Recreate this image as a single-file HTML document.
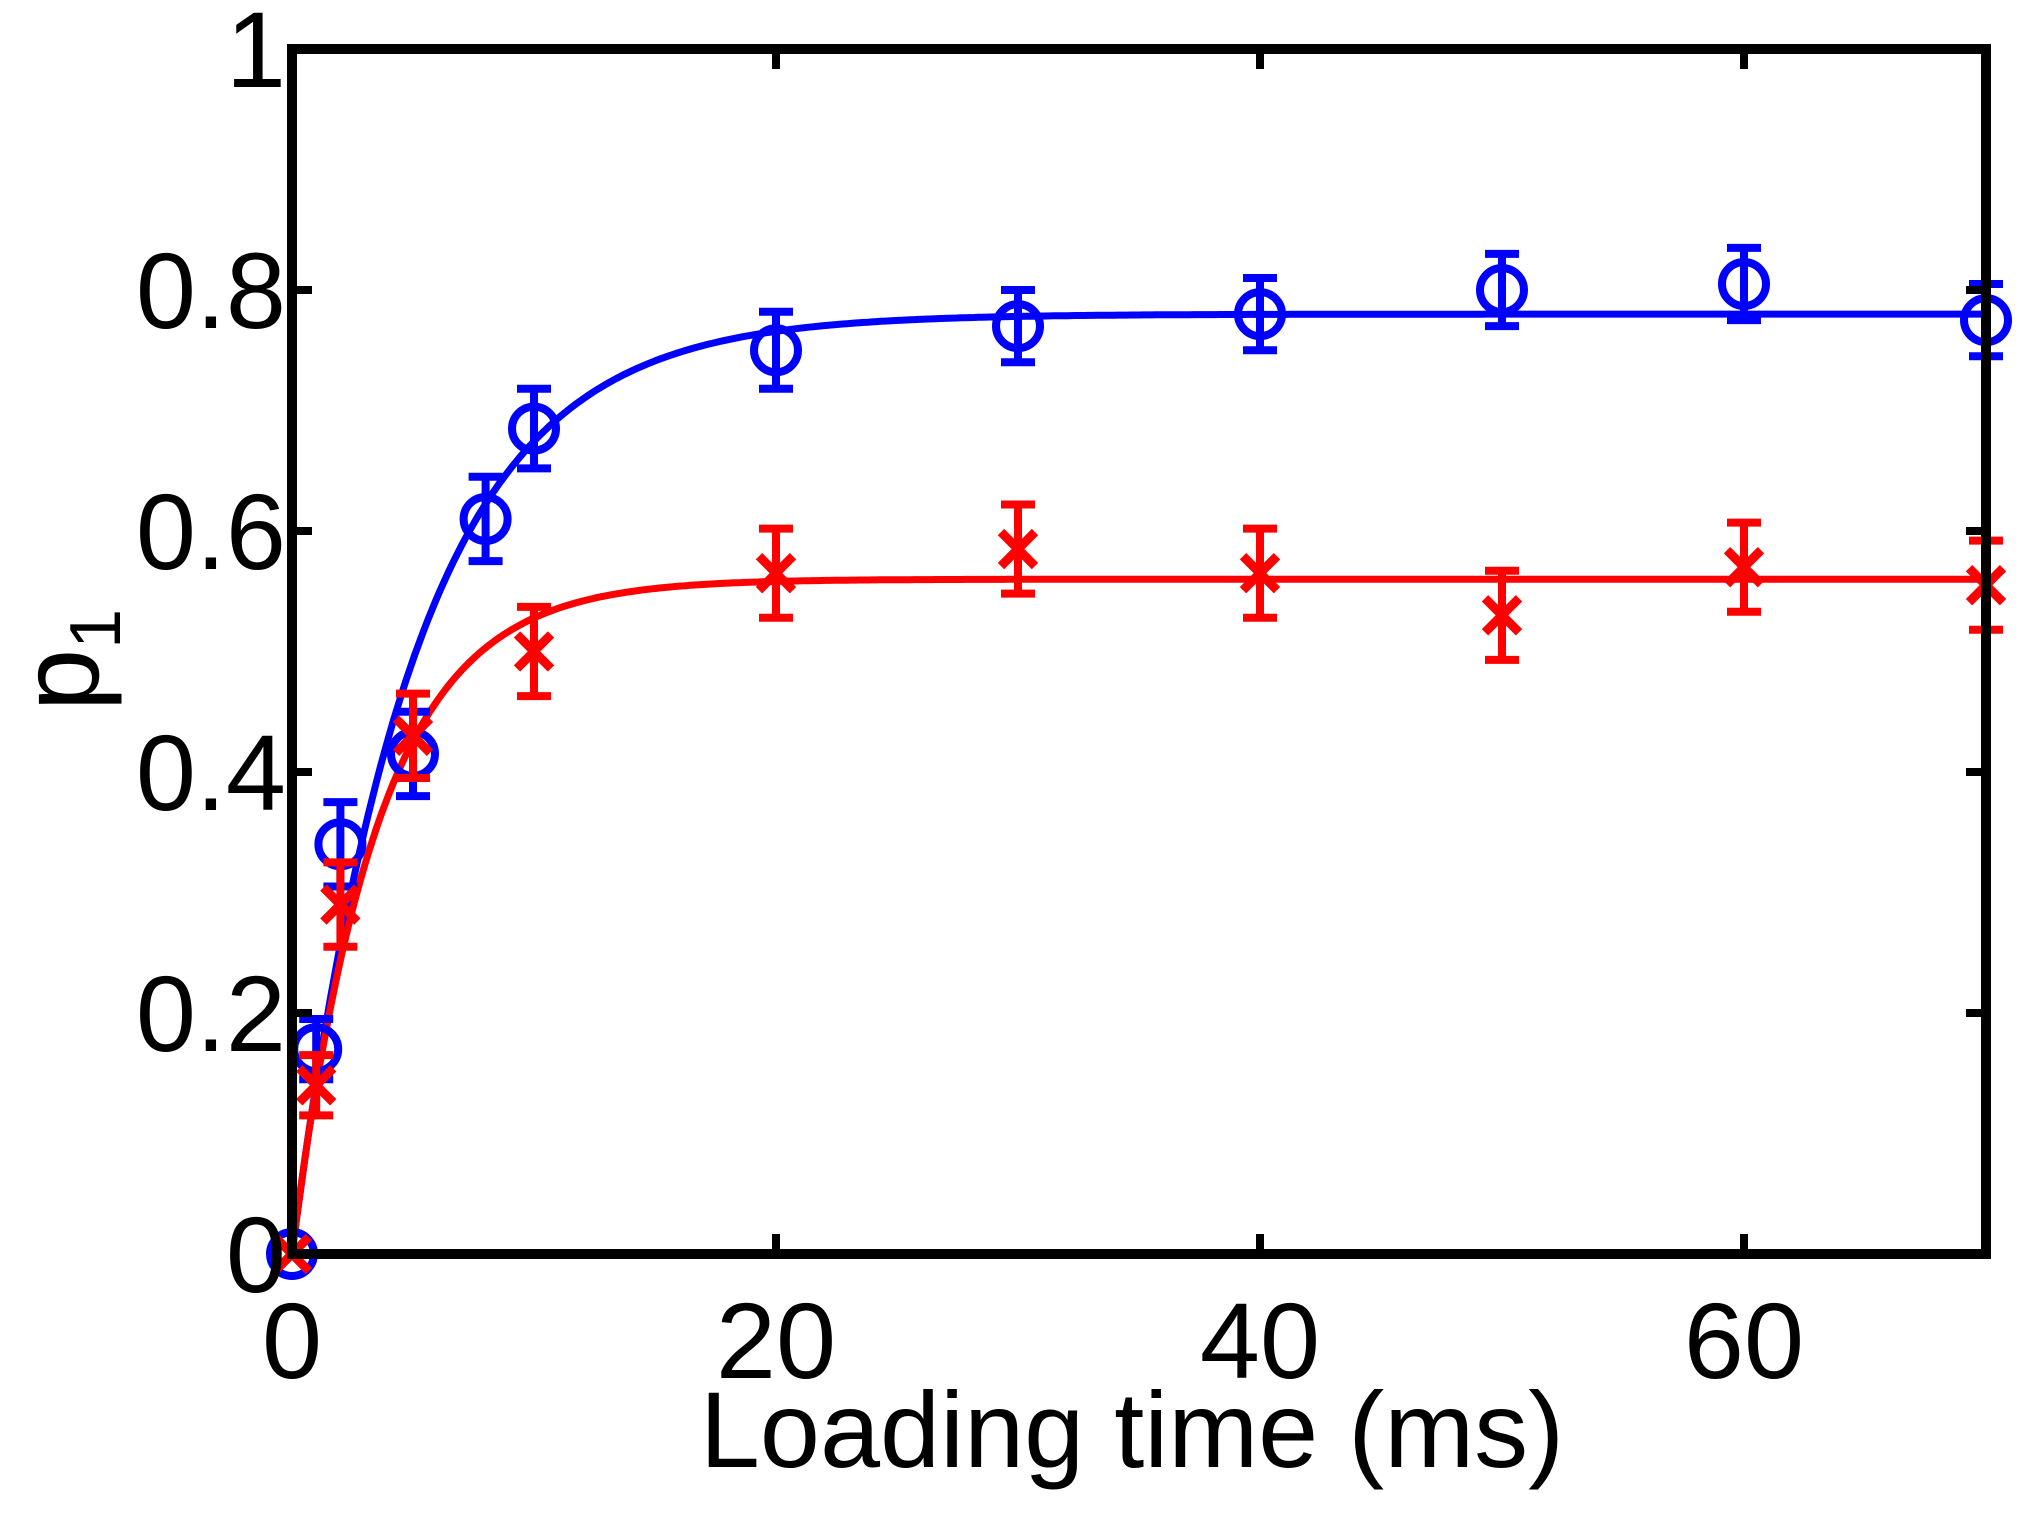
<!DOCTYPE html>
<html><head><meta charset="utf-8"><style>
body{margin:0;background:#fff}
svg{display:block}
text{font-family:"Liberation Sans",sans-serif;fill:#000}
</style></head><body>
<svg id="chart" width="2027" height="1513" viewBox="0 0 2027 1513"></svg>
<script>
const xTicks=[0,20,40,60];
const yTicks=[0,0.2,0.4,0.6,0.8,1];
const yTickLabels=["0","0.2","0.4","0.6","0.8","1"];
const blueX=[0,1,2,5,8,10,20,30,40,50,60,70];
const blueY=[0,0.17,0.34,0.415,0.61,0.685,0.75,0.77,0.78,0.80,0.805,0.775];
const blueErr=[0,0.025,0.035,0.035,0.035,0.033,0.032,0.03,0.03,0.03,0.03,0.03];
const redX=[0,1,2,5,10,20,30,40,50,60,70];
const redY=[0,0.14,0.29,0.43,0.50,0.565,0.585,0.565,0.53,0.57,0.555];
const redErr=[0,0.025,0.035,0.035,0.037,0.037,0.037,0.037,0.037,0.037,0.037];
const blueFit=[0.78,5.0];
const redFit=[0.56,3.5];

const X0=292,X1=1986,Y0=1254,Y1=49;
const sx=v=>X0+(v-0)/(70-0)*(X1-X0);
const sy=v=>Y0-(v-0)/(1-0)*(Y0-Y1);
const svg=document.getElementById('chart');
const NS='http://www.w3.org/2000/svg';
function mk(tag,attrs,parent){const e=document.createElementNS(NS,tag);for(const k in attrs)e.setAttribute(k,attrs[k]);(parent||svg).appendChild(e);return e;}

function fitPath(p){let d='';for(let i=0;i<=400;i++){const t=70*i/400;const y=p[0]*(1-Math.exp(-t/p[1]));d+=(i?'L':'M')+sx(t).toFixed(1)+' '+sy(y).toFixed(1);}return d;}
const bf=mk('path',{d:fitPath(blueFit),fill:'none',stroke:'#0000ff','stroke-width':7});


const rf=mk('path',{d:fitPath(redFit),fill:'none',stroke:'#ff0000','stroke-width':7});



function errbar(x,y,e,col,g){
  const cx=sx(x),t=sy(y+e),b=sy(y-e);
  mk('line',{x1:cx,x2:cx,y1:t,y2:b,stroke:col,'stroke-width':8},g);
  mk('line',{x1:cx-17,x2:cx+17,y1:t,y2:t,stroke:col,'stroke-width':8},g);
  mk('line',{x1:cx-17,x2:cx+17,y1:b,y2:b,stroke:col,'stroke-width':8},g);
}
blueX.forEach((x,i)=>{
  const g=mk('g',{});
  
  
  if(blueErr[i]>0)errbar(x,blueY[i],blueErr[i],'#0000ff',g);
  mk('circle',{cx:sx(x),cy:sy(blueY[i]),r:22,fill:'none',stroke:'#0000ff','stroke-width':8},g);
});
redX.forEach((x,i)=>{
  const g=mk('g',{});
  
  
  if(redErr[i]>0)errbar(x,redY[i],redErr[i],'#ff0000',g);
  const cx=sx(x),cy=sy(redY[i]),s=17;
  mk('path',{d:`M${cx-s} ${cy-s}L${cx+s} ${cy+s}M${cx-s} ${cy+s}L${cx+s} ${cy-s}`,stroke:'#ff0000','stroke-width':9},g);
});

const box=mk('rect',{x:X0,y:Y1,width:X1-X0,height:Y0-Y1,fill:'none',stroke:'#000','stroke-width':10});



xTicks.forEach(v=>{
  const x=sx(v);
  mk('line',{x1:x,x2:x,y1:Y0,y2:Y0-20,stroke:'#000','stroke-width':8});
  mk('line',{x1:x,x2:x,y1:Y1,y2:Y1+20,stroke:'#000','stroke-width':8});
  const t=mk('text',{x:x,y:Y0+124,'font-size':108,'text-anchor':'middle'});
  t.textContent=String(v);
  
  
});
yTicks.forEach((v,i)=>{
  const y=sy(v);
  mk('line',{x1:X0,x2:X0+20,y1:y,y2:y,stroke:'#000','stroke-width':8});
  mk('line',{x1:X1,x2:X1-20,y1:y,y2:y,stroke:'#000','stroke-width':8});
  const t=mk('text',{x:X0-6,y:y+38,'font-size':108,'text-anchor':'end'});
  t.textContent=yTickLabels[i];
  
  
});
const xl=mk('text',{x:1132,y:1467,'font-size':108,'text-anchor':'middle'});
xl.textContent='Loading time (ms)';


const yl=mk('text',{transform:'translate(98,660) rotate(-90)','font-size':112,'text-anchor':'middle'});
yl.innerHTML='p<tspan font-size="72" dy="22">1</tspan>';


</script>
</body></html>
